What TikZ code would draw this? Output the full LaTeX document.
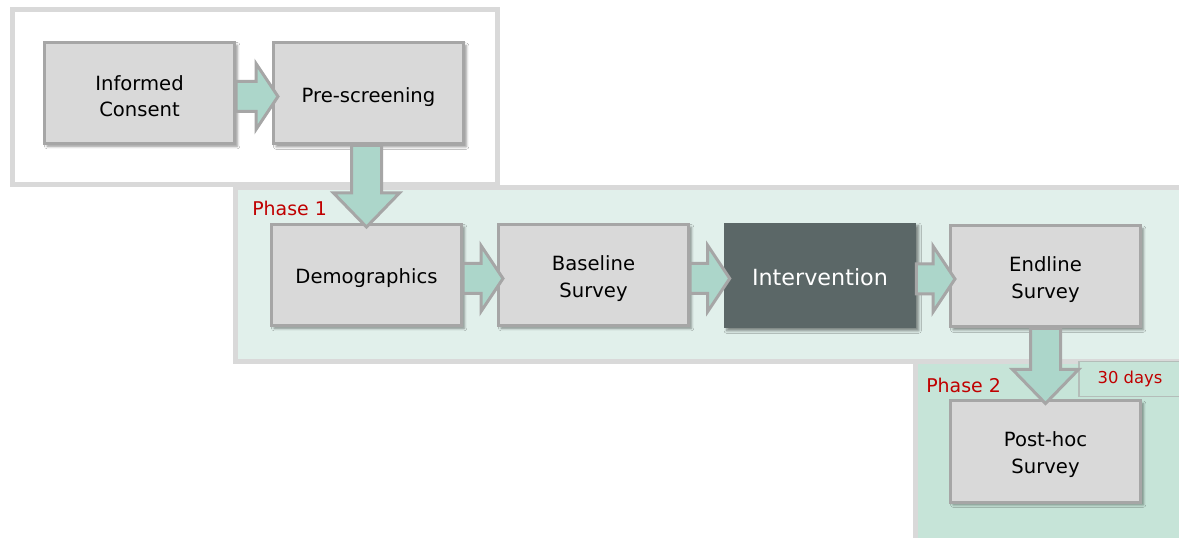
\documentclass[tikz,border=0pt]{standalone}
\usepackage{fontspec}
\setmainfont{DejaVu Sans}
\usetikzlibrary{calc,shadows.blur}

\definecolor{boxfill}{HTML}{D9D9D9}
\definecolor{boxline}{HTML}{A6A6A6}
\definecolor{darkfill}{HTML}{5B6767}
\definecolor{mint}{HTML}{ACD6CA}
\definecolor{phaseone}{HTML}{E1F0EB}
\definecolor{phasetwo}{HTML}{C6E4D8}
\definecolor{frameline}{HTML}{D9D9D9}
\definecolor{labelred}{HTML}{C00000}
\definecolor{daysline}{HTML}{B4BDB9}

\tikzset{
  boxshadow/.style={blur shadow={shadow xshift=2pt, shadow yshift=-2pt,
      shadow blur radius=2pt, shadow opacity=45}},
  stepbox/.style={draw=boxline, fill=boxfill, line width=2.25pt,
      minimum width=142.5pt, minimum height=75.75pt, inner sep=0pt, boxshadow},
  steptext/.style={align=center, inner sep=0pt, yshift=-2.5pt,
      font=\fontsize{14.7}{20}\selectfont},
  keybox/.style={fill=darkfill, minimum width=144pt, minimum height=78.75pt,
      inner sep=0pt, boxshadow},
  keytext/.style={inner sep=0pt, yshift=-1.5pt, text=white,
      font=\fontsize{16.7}{20}\selectfont},
  blockarrow/.style={draw=boxline, fill=mint, line width=2.25pt, line join=miter},
  phaselabel/.style={text=labelred, font=\fontsize{14.2}{16}\selectfont,
      inner sep=0pt, anchor=west},
  dayslabel/.style={text=labelred, font=\fontsize{12.3}{14}\selectfont, inner sep=0pt},
  groupframe/.style={draw=frameline, line width=3.75pt},
}

% horizontal block arrow from the east side of #1 into the west side of #2
\newcommand{\hflow}[2]{%
  \coordinate (hs) at ($(#1.east)+(0,3.5)$);
  \coordinate (ht) at ($(#2.west|-hs)+(6,0)$);
  \draw[blockarrow] ($(hs)+(0,-15)$) -- ($(ht)+(-22,-15)$) -- ($(ht)+(-22,-33)$)
    -- (ht) -- ($(ht)+(-22,33)$) -- ($(ht)+(-22,15)$) -- ($(hs)+(0,15)$) -- cycle;}

% vertical block arrow from the south side of #1 into the north side of #2
\newcommand{\vflow}[2]{%
  \coordinate (vt) at ($(#2.north)+(0,4)$);
  \coordinate (vs) at (#1.south -| vt);
  \draw[blockarrow] ($(vs)+(-15,0)$) -- ($(vt)+(-15,-34)$) -- ($(vt)+(-33,-34)$)
    -- (vt) -- ($(vt)+(33,-34)$) -- ($(vt)+(15,-34)$) -- ($(vs)+(15,0)$) -- cycle;}

\begin{document}
\begin{tikzpicture}[x=0.75pt, y=-0.75pt]
  \useasboundingbox (0,0) rectangle (1179,538);
  \clip (0,0) rectangle (1179,538);

  % group frames
  \draw[groupframe, fill=white] (12,10) rectangle (497.5,184.5);
  \draw[groupframe, fill=phaseone] (235,187.5) rectangle (1195,361.5);
  \draw[groupframe, fill=phasetwo] (915.5,362) rectangle (1195,550);

  % delay note
  \draw[draw=daysline, fill=phasetwo, line width=1.2pt] (1079,361.5) rectangle (1195,396.5);
  \node[dayslabel] (days) at (1130,379) {30 days};

  % phase labels
  \node[phaselabel] (p1) at (252,208) {Phase 1};
  \node[phaselabel] (p2) at (926,385) {Phase 2};

  % steps
  \node[stepbox, label={[steptext]center:{Informed\\Consent}}] (consent) at (139.5,93) {};
  \node[stepbox, label={[steptext]center:{Pre-screening}}] (screen) at (368.5,93.5) {};
  \node[stepbox, label={[steptext]center:{Demographics}}] (demo) at (366.5,275) {};
  \node[stepbox, label={[steptext]center:{Baseline\\Survey}}] (baseline) at (593.5,275) {};
  \node[keybox, label={[keytext]center:{Intervention}}] (interv) at (820,275.5) {};
  \node[stepbox, label={[steptext]center:{Endline\\Survey}}] (endline) at (1045.5,276.5) {};
  \node[stepbox, label={[steptext]center:{Post-hoc\\Survey}}] (posthoc) at (1045.5,451.5) {};

  % flow
  \hflow{consent}{screen}
  \vflow{screen}{demo}
  \hflow{demo}{baseline}
  \hflow{baseline}{interv}
  \hflow{interv}{endline}
  \vflow{endline}{posthoc}
\end{tikzpicture}
\end{document}
